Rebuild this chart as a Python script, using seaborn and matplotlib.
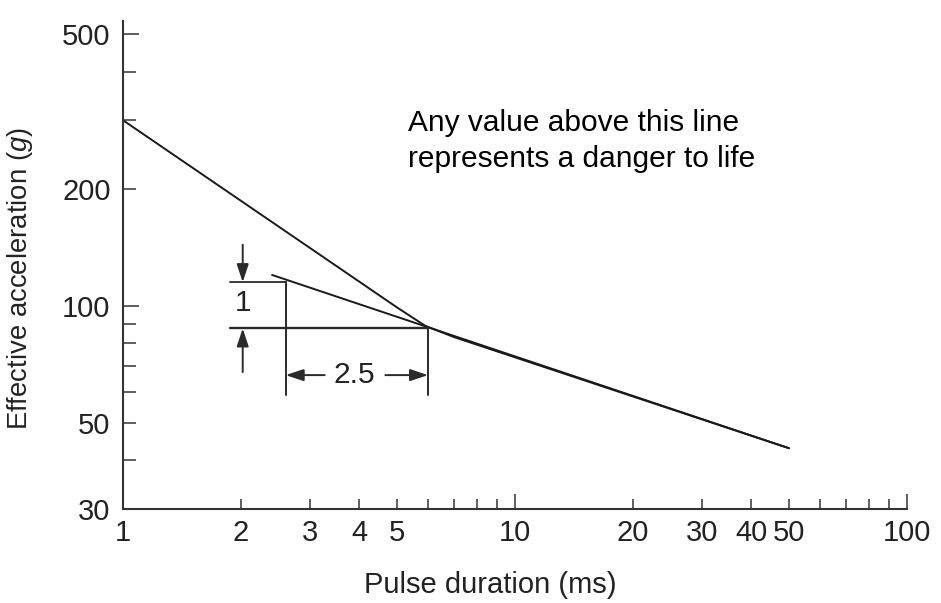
import matplotlib
matplotlib.use("Agg")
import matplotlib.pyplot as plt
import matplotlib.ticker as mticker
import seaborn as sns
import pandas as pd

# ---- data ----
danger_x = [1, 5, 5.9, 7, 50]
danger_y = [300, 99, 88.8, 83, 43]

tangent_x = [2.4, 50]
tangent_y = [120, 43]

# slope indicator (1 : 2.5)
slope_x = [2.6, 6.0]
slope_y = [115, 87.4]

x_major = [1, 2, 3, 4, 5, 10, 20, 30, 40, 50, 100]
x_minor = [6, 7, 8, 9, 60, 70, 80, 90]
y_major = [30, 50, 100, 200, 500]
y_minor = [40, 60, 70, 80, 90, 300, 400]

sns.set_theme(style="ticks")
plt.rcParams["font.family"] = ["Liberation Sans", "DejaVu Sans"]
plt.rcParams["mathtext.fontset"] = "custom"
plt.rcParams["mathtext.it"] = "Liberation Sans:italic"
plt.rcParams["mathtext.rm"] = "Liberation Sans"

FS = 21

fig = plt.figure(figsize=(9.41, 6.03), dpi=100)
ax = fig.add_axes([123 / 941, 1 - 509 / 603, (907 - 123) / 941, (509 - 21) / 603])

df_d = pd.DataFrame({"x": danger_x, "y": danger_y})
df_t = pd.DataFrame({"x": tangent_x, "y": tangent_y})
sns.lineplot(data=df_d, x="x", y="y", ax=ax, color="#1a1a1a", lw=1.4, sort=False)
sns.lineplot(data=df_t, x="x", y="y", ax=ax, color="#1a1a1a", lw=1.4, sort=False)

ax.set_xscale("log")
ax.set_yscale("log")
ax.set_xlim(1, 100)
ax.set_ylim(30, 540)

lc = "#2a2a2a"
# slope triangle lines
x_left = 1.88
ax.plot([x_left, slope_x[0]], [slope_y[0]] * 2, color=lc, lw=1.3)
ax.plot([x_left, slope_x[1]], [slope_y[1]] * 2, color=lc, lw=1.7)
ax.plot([slope_x[0]] * 2, [slope_y[0], 58.9], color=lc, lw=1.4)
ax.plot([slope_x[1]] * 2, [slope_y[1], 58.9], color=lc, lw=1.4)

arrow_kw = dict(arrowstyle="-|>,head_length=0.9,head_width=0.3", color=lc, lw=1.4,
                shrinkA=0, shrinkB=0)
xa = 2.02
ax.annotate("", xy=(xa, slope_y[0]), xytext=(xa, 143.5), arrowprops=arrow_kw)
ax.annotate("", xy=(xa, slope_y[1]), xytext=(xa, 67.5), arrowprops=arrow_kw)
ax.text(xa, 101.6, "1", ha="center", va="center", fontsize=FS + 0.5, color="#222222")

ya = 66.3
ax.annotate("", xy=(slope_x[0], ya), xytext=(3.27, ya), arrowprops=arrow_kw)
ax.annotate("", xy=(slope_x[1], ya), xytext=(4.67, ya), arrowprops=arrow_kw)
ax.text(3.9, ya, "2.5", ha="center", va="center", fontsize=FS + 0.5, color="#222222")

fig.text(408 / 941, 1 - 109 / 603,
         "Any value above this line\nrepresents a danger to life",
         ha="left", va="top", fontsize=21.5, color="black", linespacing=1.38)

# axes styling
for s in ["top", "right"]:
    ax.spines[s].set_visible(False)
for s in ["left", "bottom"]:
    ax.spines[s].set_color("#333333")
    ax.spines[s].set_linewidth(1.5)

ax.xaxis.set_major_locator(mticker.FixedLocator(x_major))
ax.xaxis.set_minor_locator(mticker.FixedLocator(x_minor))
ax.xaxis.set_major_formatter(mticker.FixedFormatter([str(v) for v in x_major]))
ax.xaxis.set_minor_formatter(mticker.NullFormatter())
ax.yaxis.set_major_locator(mticker.FixedLocator(y_major))
ax.yaxis.set_minor_locator(mticker.FixedLocator(y_minor))
ax.yaxis.set_major_formatter(mticker.FixedFormatter([str(v) for v in y_major]))
ax.yaxis.set_minor_formatter(mticker.NullFormatter())

ax.tick_params(axis="both", which="both", direction="in", color="#333333", width=1.1,
               labelcolor="#222222", labelsize=FS)
ax.tick_params(axis="x", which="both", length=7.5, pad=7)
ax.tick_params(axis="y", which="both", length=9.3, pad=9)

fig.canvas.draw()
for t in ax.xaxis.get_major_ticks():
    if t.get_loc() in (10, 100):
        t.tick1line.set_markersize(10.5)
for t in ax.yaxis.get_major_ticks():
    if t.get_loc() in (100, 500):
        t.tick1line.set_markersize(11.5)

ax.set_xlabel("Pulse duration (ms)", fontsize=FS, color="#222222")
ax.set_ylabel("Effective acceleration ($g$)", fontsize=19.8, color="#222222")
ax.xaxis.set_label_coords((490 - 123) / 784, -(571 - 509) / 488)
ax.yaxis.set_label_coords(-(123 - 35) / 784, (509 - 279) / 488)

fig.savefig("out.png", dpi=100)
